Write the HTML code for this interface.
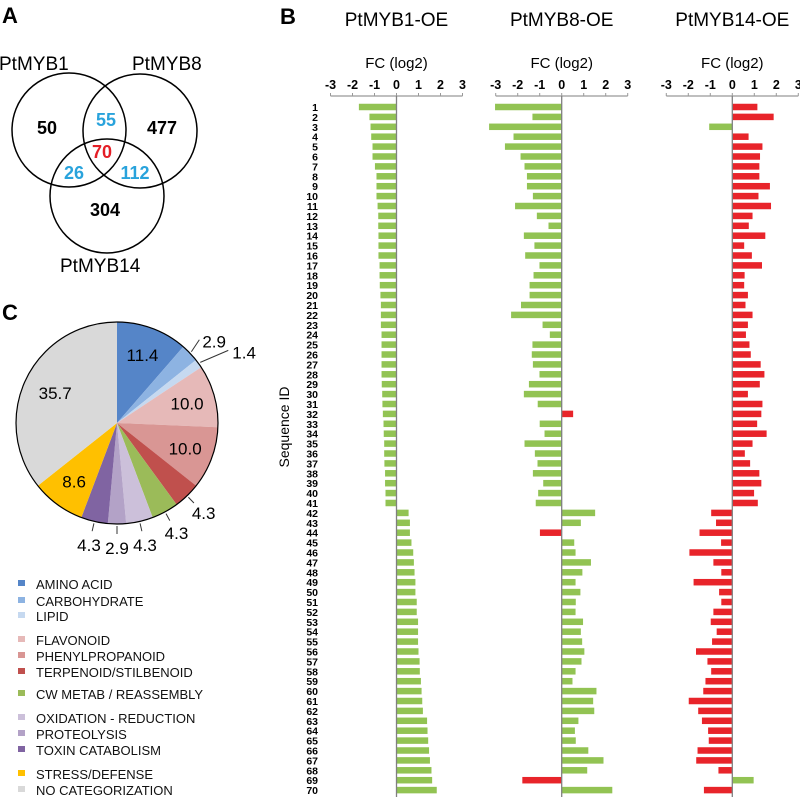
<!DOCTYPE html>
<html><head><meta charset="utf-8"><style>
html,body{margin:0;padding:0;background:#fff;}
svg{display:block;font-family:"Liberation Sans",Arial,sans-serif;}
</style></head><body>
<svg id="fig" width="800" height="797" viewBox="0 0 800 797" xmlns="http://www.w3.org/2000/svg">
<g>
<text x="2" y="23" font-size="22" font-weight="bold">A</text>
<circle cx="69" cy="130" r="57" fill="none" stroke="#000" stroke-width="1.5"/>
<circle cx="140" cy="131" r="57" fill="none" stroke="#000" stroke-width="1.5"/>
<circle cx="107" cy="196" r="57" fill="none" stroke="#000" stroke-width="1.5"/>
<text x="-1" y="70" font-size="19">PtMYB1</text>
<text x="132" y="70" font-size="19">PtMYB8</text>
<text x="60" y="272" font-size="19">PtMYB14</text>
<g font-size="18" font-weight="bold" text-anchor="middle">
<text x="47" y="134">50</text>
<text x="106" y="126" fill="#29a3dc">55</text>
<text x="162" y="134">477</text>
<text x="102" y="158" fill="#e41e26">70</text>
<text x="74" y="179" fill="#29a3dc">26</text>
<text x="135" y="179" fill="#29a3dc">112</text>
<text x="105" y="216">304</text>
</g>
</g>
<g id="pie">
<text x="2" y="320" font-size="22" font-weight="bold">C</text>
</g>
<g id="legend"></g>
<g id="bars">
<text x="280" y="24" font-size="22" font-weight="bold">B</text>
<text x="289" y="427" font-size="14" text-anchor="middle" transform="rotate(-90 289 427)">Sequence ID</text>
</g>
</svg>
<script>
const NS='http://www.w3.org/2000/svg';
function mk(tag,attrs,parent,txt){const e=document.createElementNS(NS,tag);for(const k in attrs)e.setAttribute(k,attrs[k]);if(txt!==undefined)e.textContent=txt;parent.appendChild(e);return e;}

// ---------- Pie data ----------
const pieCategories=['AMINO ACID','CARBOHYDRATE','LIPID','FLAVONOID','PHENYLPROPANOID','TERPENOID/STILBENOID','CW METAB / REASSEMBLY','OXIDATION  - REDUCTION','PROTEOLYSIS','TOXIN CATABOLISM','STRESS/DEFENSE','NO CATEGORIZATION'];
const pieValues=[11.4,2.9,1.4,10.0,10.0,4.3,4.3,4.3,2.9,4.3,8.6,35.7];
const pieLabels=['11.4','2.9','1.4','10.0','10.0','4.3','4.3','4.3','2.9','4.3','8.6','35.7'];
const pieColors=['#5585c8','#8db3e2','#c6d9f0','#e6b9b8','#d99694','#c0504d','#9bbb59','#ccc0da','#b3a2c7','#8064a2','#ffc000','#d9d9d9'];

const pieG=document.getElementById('pie');
const pcx=117,pcy=423,pr=101;
const total=pieValues.reduce((a,b)=>a+b,0);
function pt(a,r){return [pcx+r*Math.sin(a),pcy-r*Math.cos(a)];}
let acc=0;
const inside=[true,false,false,true,true,false,false,false,false,false,true,true];
pieValues.forEach((v,i)=>{
  const a0=acc/total*2*Math.PI;acc+=v;const a1=acc/total*2*Math.PI;
  const p0=pt(a0,pr),p1=pt(a1,pr);
  const large=(a1-a0)>Math.PI?1:0;
  const s=mk('path',{d:`M${pcx},${pcy}L${p0[0]},${p0[1]}A${pr},${pr} 0 ${large} 1 ${p1[0]},${p1[1]}Z`,fill:pieColors[i]},pieG);
  
  
  const am=(a0+a1)/2;
  if(inside[i]){
    const q=pt(am,i===11?pr*0.68:pr*0.72);
    const t=mk('text',{x:q[0],y:q[1]+6,'font-size':17,'text-anchor':'middle'},pieG,pieLabels[i]);
    
    
  }else{
    const e1=pt(am,pr+2);
    let e2=pt(am,pr+10),q=pt(am,pr+24),anchor='middle';
    if(i===1){e2=[e1[0]+8,e1[1]-12];q=[e2[0]+3,e2[1]+2];anchor='start';}
    if(i===2){e2=[e1[0]+28,e1[1]-12];q=[e2[0]+4,e2[1]+2];anchor='start';}
    const l=mk('polyline',{points:`${e1[0]},${e1[1]} ${e2[0]},${e2[1]}`,fill:'none',stroke:'#333','stroke-width':1},pieG);
    
    
    const t=mk('text',{x:q[0],y:q[1]+6,'font-size':17,'text-anchor':anchor},pieG,pieLabels[i]);
    
    
  }
});
const outline=mk('circle',{cx:pcx,cy:pcy,r:pr,fill:'none',stroke:'#000','stroke-width':1.2},pieG);



// ---------- Legend ----------
const legendY=[584,601,616,640,656,672,694,718,734,750,774,790];
const legG=document.getElementById('legend');
pieCategories.forEach((c,i)=>{
  const g=mk('g',{},legG);
  
  
  mk('rect',{x:18,y:legendY[i]-4,width:7,height:6,fill:pieColors[i]},g);
  mk('text',{x:36,y:legendY[i]+5,'font-size':13,fill:'#111'},g,c);
});

// ---------- Bar data ----------
const seqIds=Array.from({length:70},(_,i)=>String(i+1));
const fcMYB1=[-1.71,-1.23,-1.18,-1.15,-1.09,-1.09,-0.98,-0.91,-0.91,-0.91,-0.86,-0.83,-0.83,-0.82,-0.82,-0.82,-0.77,-0.77,-0.76,-0.73,-0.71,-0.71,-0.71,-0.68,-0.68,-0.68,-0.68,-0.68,-0.67,-0.65,-0.64,-0.62,-0.59,-0.58,-0.56,-0.56,-0.55,-0.52,-0.52,-0.50,-0.50,0.55,0.61,0.61,0.68,0.76,0.79,0.82,0.86,0.86,0.92,0.92,0.98,0.98,0.98,1.0,1.05,1.06,1.11,1.14,1.17,1.2,1.39,1.41,1.44,1.48,1.52,1.59,1.62,1.83];
const fcMYB8=[-3.03,-1.33,-3.3,-2.19,-2.58,-1.87,-1.69,-1.58,-1.58,-1.31,-2.12,-1.13,-0.6,-1.72,-1.24,-1.66,-1.01,-1.28,-1.46,-1.46,-1.85,-2.3,-0.87,-0.54,-1.33,-1.36,-1.31,-1.01,-1.49,-1.72,-1.09,0.52,-1.0,-0.78,-1.69,-1.22,-1.1,-1.31,-0.84,-1.07,-1.18,1.52,0.87,-0.99,0.57,0.63,1.33,0.94,0.63,0.85,0.64,0.63,0.97,0.87,0.93,1.03,0.9,0.63,0.49,1.58,1.43,1.48,0.76,0.6,0.64,1.21,1.9,1.16,-1.79,2.3];
const fcMYB14=[1.14,1.88,-1.05,0.74,1.37,1.26,1.23,1.23,1.71,1.19,1.76,0.92,0.75,1.5,0.54,0.89,1.35,0.56,0.54,0.71,0.6,0.92,0.71,0.62,0.78,0.84,1.29,1.46,1.25,0.71,1.37,1.32,1.13,1.56,0.92,0.57,0.81,1.23,1.32,0.99,1.16,-0.96,-0.74,-1.49,-0.51,-1.95,-0.86,-0.5,-1.76,-0.6,-0.5,-0.86,-0.98,-0.71,-0.92,-1.65,-1.13,-0.96,-1.22,-1.32,-1.98,-1.55,-1.38,-1.1,-1.07,-1.58,-1.64,-0.63,0.97,-1.29];
const panelTitles=['PtMYB1-OE','PtMYB8-OE','PtMYB14-OE'];
const tickValues=[-3,-2,-1,0,1,2,3];

const series=[fcMYB1,fcMYB8,fcMYB14];
const zeroX=[396.5,561.7,732.3];
const unit=22;
const row0=107,rowStep=9.9,barH=6.5,axisY=96;
const barsG=document.getElementById('bars');
function xs(p,v){return zeroX[p]+v*unit;}
function ys(i){return row0+i*rowStep;}
series.forEach((arr,p)=>{
  const pg=mk('g',{},barsG);
  
  
  const t=mk('text',{x:zeroX[p],y:26,'font-size':19,'text-anchor':'middle'},pg,panelTitles[p]);
  
  
  const f=mk('text',{x:zeroX[p],y:68,'font-size':15,'text-anchor':'middle'},pg,'FC (log2)');
  
  
  const ax=mk('line',{x1:xs(p,-3),y1:axisY,x2:xs(p,3),y2:axisY,stroke:'#999','stroke-width':1.2},pg);
  
  
  tickValues.forEach(tv=>{
    mk('line',{x1:xs(p,tv),y1:axisY-3,x2:xs(p,tv),y2:axisY,stroke:'#999','stroke-width':1},pg);
    const tl=mk('text',{x:xs(p,tv),y:89,'font-size':12.5,'font-weight':'bold','text-anchor':'middle'},pg,String(tv));
    
    
  });
  arr.forEach((v,i)=>{
    const expectedDown=i<41;
    let col;
    if(p===0) col='#92c353';
    else col=((v<0)===expectedDown)?'#92c353':'#e8242a';
    const x0=Math.min(xs(p,0),xs(p,v)),w=Math.abs(xs(p,v)-xs(p,0));
    const b=mk('rect',{x:x0,y:ys(i)-barH/2,width:w,height:barH,fill:col},pg);
    
    
  });
  const zl=mk('line',{x1:xs(p,0),y1:axisY,x2:xs(p,0),y2:797,stroke:'#808080','stroke-width':1.3},pg);
  
  
});
seqIds.forEach((s,i)=>{
  const t=mk('text',{x:318,y:ys(i)+4,'font-size':10.5,'font-weight':'bold','text-anchor':'end'},barsG,s);
  
  
});
</script>
</body></html>
